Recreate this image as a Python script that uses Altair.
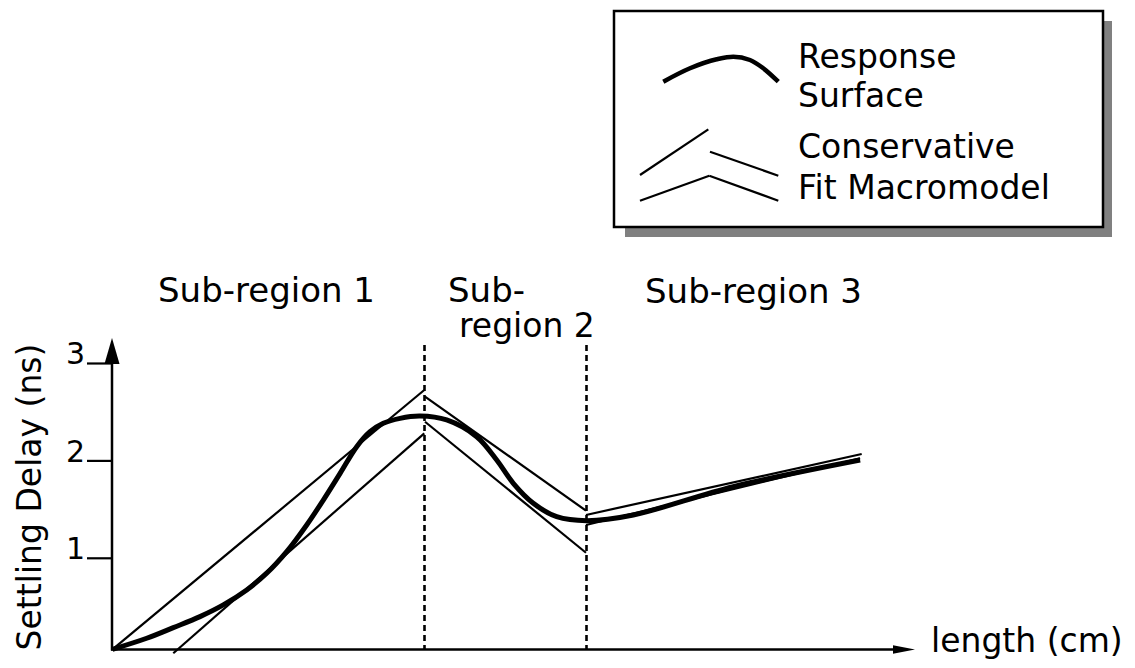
import altair as alt
import pandas as pd

# ---------------- data (length in cm, settling delay in ns) ----------------
SURF_X = [0.0, 0.855, 1.52, 2.1875, 2.77, 3.355, 3.855, 4.355, 4.855, 5.27, 5.69,
          6.105, 6.4375, 6.77, 7.1875, 7.6875, 8.355, 9.105, 9.605, 10.02, 10.52,
          11.105, 11.855, 13.02, 15.52, 18.69]
SURF_Y = [0.066, 0.179, 0.288, 0.401, 0.521, 0.675, 0.846, 1.068, 1.342, 1.598, 1.872,
          2.146, 2.3, 2.386, 2.437, 2.461, 2.42, 2.248, 2.009, 1.77, 1.565,
          1.427, 1.386, 1.445, 1.735, 2.009]

FIT_SEG = ["r1_upper", "r1_lower", "r2_upper", "r2_lower", "r3_upper", "r3_lower"]
FIT_X0 = [0.0, 1.52, 7.8125, 7.8125, 11.8375, 11.8375]
FIT_Y0 = [0.064, 0.025, 2.659, 2.402, 1.445, 1.342]
FIT_X1 = [7.795, 7.795, 11.8375, 11.8375, 18.73, 18.69]
FIT_Y1 = [2.728, 2.283, 1.489, 1.057, 2.071, 2.027]

BOUNDS = [7.8, 11.85]
Y_TICKS = [1, 2, 3]

REGION_LABELS = ["Sub-region 1", "Sub-", "region 2", "Sub-region 3"]
LEGEND_LABELS = ["Response", "Surface", "Conservative", "Fit Macromodel"]
X_TITLE = "length (cm)"
Y_TITLE = "Settling Delay (ns)"

# ---------------- layout ----------------
W, H = 1115, 652
OFF = 8  # page margin -> plot coordinates
FONT = "DejaVu Sans"
xs = alt.Scale(domain=[-2.6125, 25.2625], nice=False, zero=False)
ys = alt.Scale(domain=[-0.0442, 6.6499], nice=False, zero=False)

one = pd.DataFrame({"a": [0]})


def P(v):
    return alt.value(v - OFF)


def text(label, x, y, size, align="left", baseline="alphabetic", angle=0):
    kw = dict(text=label, align=align, baseline=baseline, font=FONT,
              fontSize=size, color="black")
    if angle:
        kw["angle"] = angle
    return alt.Chart(one).mark_text(**kw).encode(x=P(x), y=P(y))


surf = pd.DataFrame({"x": SURF_X, "y": SURF_Y})
fits = pd.DataFrame({"seg": FIT_SEG, "x0": FIT_X0, "y0": FIT_Y0,
                     "x1": FIT_X1, "y1": FIT_Y1})
bounds = pd.DataFrame({"b": BOUNDS})
ticks = pd.DataFrame({"v": Y_TICKS, "lab": [str(t) for t in Y_TICKS]})

fit_layer = alt.Chart(fits).mark_rule(color="black", strokeWidth=2.2).encode(
    x=alt.X("x0:Q", scale=xs, axis=None), y=alt.Y("y0:Q", scale=ys, axis=None),
    x2="x1:Q", y2="y1:Q")

surf_layer = alt.Chart(surf).mark_line(
    color="black", strokeWidth=5, interpolate="catmull-rom").encode(
    x=alt.X("x:Q", scale=xs, axis=None), y=alt.Y("y:Q", scale=ys, axis=None))

bound_layer = alt.Chart(bounds).mark_rule(
    color="black", strokeWidth=2.6, strokeDash=[6, 4]).encode(
    x=alt.X("b:Q", scale=xs, axis=None), y=P(345), y2=P(649.5))

# axes (drawn as arrows)
y_axis = alt.Chart(one).mark_rule(color="black", strokeWidth=2.5).encode(
    x=P(112), y=P(345), y2=P(650.5))
x_axis = alt.Chart(one).mark_rule(color="black", strokeWidth=2.5).encode(
    x=P(111), x2=P(900), y=P(649.5))
y_arrow = alt.Chart(one).mark_point(
    shape="M0,-1L0.58,1L-0.58,1Z", filled=True, size=676, color="black",
    opacity=1, strokeWidth=0).encode(x=P(112), y=P(351))
x_arrow = alt.Chart(one).mark_point(
    shape="M1,0L-1,-0.38L-1,0.38Z", filled=True, size=484, color="black",
    opacity=1, strokeWidth=0).encode(x=P(904), y=P(649.5))

tick_marks = alt.Chart(ticks).mark_rule(color="black", strokeWidth=2.2).encode(
    y=alt.Y("v:Q", scale=ys, axis=None), x=P(87), x2=P(112))
tick_labels = alt.Chart(ticks).mark_text(
    align="right", baseline="alphabetic", font=FONT, fontSize=30, color="black",
    dy=1).encode(y=alt.Y("v:Q", scale=ys, axis=None), x=P(85), text="lab:N")

# legend box
shadow = alt.Chart(one).mark_rect(color="#808080").encode(
    x=P(625), x2=P(1112), y=P(21), y2=P(237))
box = alt.Chart(one).mark_rect(fill="white", stroke="black", strokeWidth=2.5).encode(
    x=P(614), x2=P(1103), y=P(11), y2=P(227))

LEG_CURVE_X = [663.3, 690, 716.7, 733.3, 750, 763.3, 778.3]
LEG_CURVE_Y = [81.7, 68.3, 59.3, 56.7, 60, 68.3, 81.7]
leg_curve = alt.Chart(pd.DataFrame({
    "x": [v - OFF for v in LEG_CURVE_X], "y": [v - OFF for v in LEG_CURVE_Y]})
).mark_line(color="black", strokeWidth=4.5, interpolate="monotone").encode(
    x=alt.X("x:Q", scale=None), y=alt.Y("y:Q", scale=None))

LEG_SEG_X0 = [640, 710, 640, 709.3]
LEG_SEG_Y0 = [175, 151.7, 200.7, 175.7]
LEG_SEG_X1 = [708.3, 778.3, 709.3, 778.3]
LEG_SEG_Y1 = [129.3, 175.7, 175.7, 200.7]
leg_segs = alt.Chart(pd.DataFrame({
    "x0": [v - OFF for v in LEG_SEG_X0], "y0": [v - OFF for v in LEG_SEG_Y0],
    "x1": [v - OFF for v in LEG_SEG_X1], "y1": [v - OFF for v in LEG_SEG_Y1]})
).mark_rule(color="black", strokeWidth=2.2).encode(
    x=alt.X("x0:Q", scale=None), y=alt.Y("y0:Q", scale=None),
    x2="x1:Q", y2="y1:Q")

texts = [
    text(REGION_LABELS[0], 158, 302, 34),
    text(REGION_LABELS[1], 448, 302, 34),
    text(REGION_LABELS[2], 459, 337, 33),
    text(REGION_LABELS[3], 645, 303, 34),
    text(LEGEND_LABELS[0], 798, 68, 33),
    text(LEGEND_LABELS[1], 798, 107, 33),
    text(LEGEND_LABELS[2], 798, 158, 33),
    text(LEGEND_LABELS[3], 798, 199, 33),
    text(X_TITLE, 931, 652, 33),
    text(Y_TITLE, 41, 497, 33, align="center", baseline="alphabetic", angle=270),
]

chart = alt.layer(
    bound_layer, fit_layer, surf_layer, y_axis, x_axis, y_arrow, x_arrow,
    tick_marks, tick_labels, shadow, box, leg_curve, leg_segs, *texts
).properties(
    width=W, height=H, padding=0, background="white",
    autosize=alt.AutoSizeParams(type="none")
).configure_view(stroke=None)

chart.save("out.html", embed_options={"renderer": "svg", "actions": False})
